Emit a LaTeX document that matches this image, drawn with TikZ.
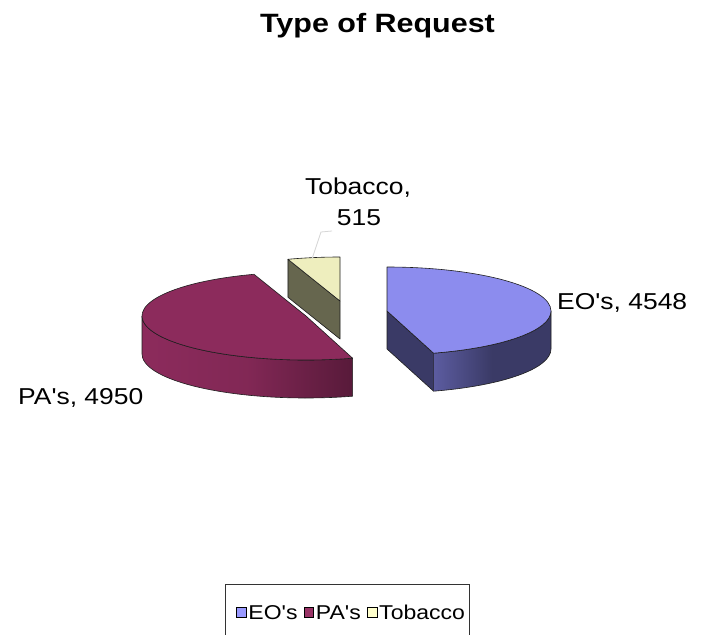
\documentclass[tikz,border=0pt]{standalone}
\usepackage{fontspec}
\setmainfont{Liberation Sans}[Ligatures=TeXOff]
\usetikzlibrary{calc}
\definecolor{eotop}{RGB}{140,140,238}
\definecolor{eoside}{RGB}{58,58,102}
\definecolor{eosidelt}{RGB}{92,92,160}
\definecolor{patop}{RGB}{140,43,92}
\definecolor{pasidelt}{RGB}{140,43,92}
\definecolor{pasidedk}{RGB}{88,26,58}
\definecolor{tobtop}{RGB}{238,238,190}
\definecolor{tobside}{RGB}{102,102,78}
\definecolor{legeo}{RGB}{153,153,255}
\definecolor{legpa}{RGB}{153,51,102}
\definecolor{legtob}{RGB}{255,255,204}
\definecolor{edgecol}{RGB}{30,30,30}
\definecolor{leadcol}{RGB}{215,215,215}
\newcommand{\sx}[1]{\scalebox{1.15}[1]{#1}}
\begin{document}
\begin{tikzpicture}[x=1pt,y=1pt,
  face/.style={draw=edgecol, line width=0.6pt, line join=round},
  lbl/.style={inner sep=0pt, font=\fontsize{23}{27}\selectfont},
  legmark/.style={draw=black, line width=1pt, minimum size=9.5pt, inner sep=0pt},
  legtext/.style={inner sep=0pt, anchor=west, font=\fontsize{20}{23}\selectfont},
  ell/.style={x radius=164, y radius=44}]
\useasboundingbox (0,0) rectangle (702,-635);
\fill[white] (0,0) rectangle (702,-635);

% title
\node[inner sep=0pt, anchor=base, font=\bfseries\fontsize{26.5}{30}\selectfont] (title) at (377.5,-32) {\sx{Type of Request}};

% centres of the exploded slices
\coordinate (ct) at (340,-301);
\coordinate (cp) at (306,-316);
\coordinate (ce) at (387,-311);

% Tobacco slice
\path[face, fill=tobside] ($(ct)+(108.5:164 and 44)$) -- (ct) -- ++(0,-38) -- ($(ct)+(108.5:164 and 44)+(0,-38)$) -- cycle;
\path[face, fill=tobtop] (ct) -- ($(ct)+(0,44)$) arc[start angle=90, end angle=108.5, ell] -- cycle;

% PA's slice
\path[face, left color=pasidelt, right color=pasidedk, middle color=pasidelt!80!pasidedk]
  ($(cp)+(180:164 and 44)$) arc[start angle=180, end angle=286.5, ell] -- ++(0,-38)
  arc[start angle=286.5, end angle=180, ell] -- cycle;
\path[face, fill=patop] (cp) -- ($(cp)+(108.5:164 and 44)$) arc[start angle=108.5, end angle=286.5, ell] -- cycle;

% EO's slice
\path[face, fill=eoside] (ce) -- ($(ce)+(-73.5:164 and 44)$) -- ++(0,-38) -- ($(ce)+(0,-38)$) -- cycle;
\path[face, left color=eosidelt, right color=eoside, middle color=eoside]
  ($(ce)+(-73.5:164 and 44)$) arc[start angle=-73.5, end angle=0, ell] -- ++(0,-38)
  arc[start angle=0, end angle=-73.5, ell] -- cycle;
\path[face, fill=eotop] (ce) -- ($(ce)+(0,44)$) arc[start angle=90, end angle=-73.5, ell] -- cycle;

% data labels
\node[lbl, anchor=base west] (eolbl) at (557,-309) {\sx{EO's, 4548}};
\node[lbl, anchor=base west] (palbl) at (18,-404) {\sx{PA's, 4950}};
\node[lbl, anchor=base] (toblbl) at (358,-194) {\sx{Tobacco,}};
\node[lbl, anchor=base] (tobval) at (359,-225) {\sx{515}};

% leader line of the Tobacco label
\coordinate (lead1) at (332,-231);
\coordinate (lead2) at (321,-232);
\coordinate (tobpt) at (312,-259);
\draw[leadcol, line width=0.8pt] (lead1) -- (lead2) -- (tobpt);

% legend
\coordinate (lg1) at (225,-640);
\coordinate (lg2) at (225,-584);
\coordinate (lg3) at (469,-584);
\coordinate (lg4) at (469,-640);
\draw[black!80, line width=0.8pt] (lg1) -- (lg2) -- (lg3) -- (lg4);
\node[legmark, fill=legeo] (m1) at (241.5,-612.5) {};
\node[legtext] (t1) at ($(m1.east)+(1.5,0)$) {\sx{EO's}};
\node[legmark, fill=legpa, anchor=west] (m2) at ($(t1.east)+(6,0)$) {};
\node[legtext] (t2) at ($(m2.east)+(1.5,0)$) {\sx{PA's}};
\node[legmark, fill=legtob, anchor=west] (m3) at ($(t2.east)+(6,0)$) {};
\node[legtext] (t3) at ($(m3.east)+(1.5,0)$) {\sx{Tobacco}};
\end{tikzpicture}
\end{document}
